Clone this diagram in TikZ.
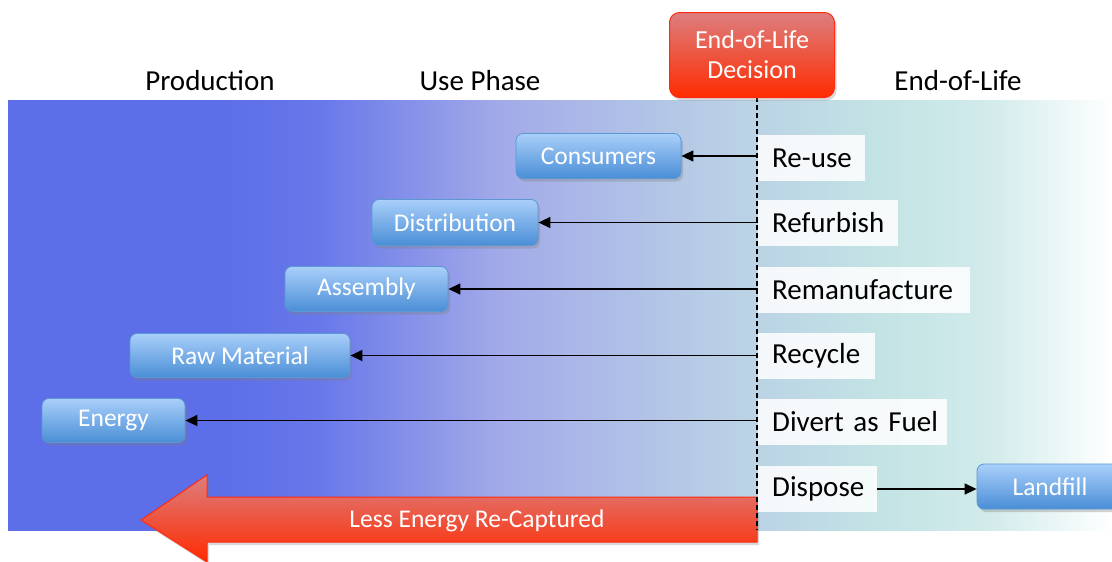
\documentclass[tikz,border=0pt]{standalone}
\usepackage{fontspec}
\setmainfont{Carlito}
\usetikzlibrary{shadows,arrows.meta}
\definecolor{bgA}{HTML}{5C6EE8}
\definecolor{bgB}{HTML}{6878EA}
\definecolor{bgC}{HTML}{A2AAE8}
\definecolor{bgD}{HTML}{B7CCE6}
\definecolor{bgE}{HTML}{C3E3E4}
\definecolor{bgF}{HTML}{D2EBEB}
\definecolor{boxTop}{HTML}{A9CFFA}
\definecolor{boxBot}{HTML}{4A8ED6}
\definecolor{boxLine}{HTML}{5A98D2}
\definecolor{redTop}{HTML}{DC7F7F}
\definecolor{redBot}{HTML}{FF2A00}
\definecolor{redLine}{HTML}{FF2A10}
\tikzset{
  bluebox/.style={draw=boxLine, line width=0.8pt, rounded corners=7pt,
    top color=boxTop, bottom color=boxBot, text=white,
    font=\fontsize{25.5}{28}\selectfont, inner sep=0pt,
    drop shadow={shadow xshift=2pt, shadow yshift=-3pt, opacity=0.35}},
  lbl/.style={fill=white, fill opacity=0.85, text opacity=1, anchor=west,
    font=\fontsize{29}{32}\selectfont, inner xsep=14pt, inner ysep=0pt,
    minimum height=46pt, align=left, text width=#1},
  head/.style={font=\fontsize{29}{32}\selectfont},
  arr/.style={-{Triangle[length=12pt,width=11pt]}, line width=1.4pt, black}
}
\begin{document}
\begin{tikzpicture}[x=1pt,y=-1pt]
\useasboundingbox (0,0) rectangle (1112,562);
% background gradient
\shade[left color=bgA, right color=bgA] (8,100) rectangle (220,530);
\shade[left color=bgA, right color=bgB] (219,100) rectangle (320,530);
\shade[left color=bgB, right color=bgC] (319,100) rectangle (500,530);
\shade[left color=bgC, right color=bgD] (499,100) rectangle (700,530);
\shade[left color=bgD, right color=bgE] (699,100) rectangle (880,530);
\shade[left color=bgE, right color=bgF] (879,100) rectangle (990,530);
\shade[left color=bgF, right color=white] (989,100) rectangle (1112,530);
% headers
\node[head] (prod) at (210,81) {Production};
\node[head] (use) at (480,81) {Use Phase};
\node[head] (eol) at (958,81) {End-of-Life};
% big red arrow
\path[draw=redLine, line width=1pt, top color=redTop, bottom color=redBot,
  drop shadow={shadow xshift=2pt, shadow yshift=-3pt, opacity=0.3}]
  (757,497) -- (207,497) -- (207,475) -- (141,520) -- (207,562) -- (207,542) -- (757,542) -- cycle;
\node[text=white, font=\fontsize{25.5}{28}\selectfont] (less) at (477,521) {Less Energy Re-Captured};
% dashed line
\coordinate (dtop) at (757,97);
\coordinate (dbot) at (757,530);
\draw[line width=1.1pt, dash pattern=on 5pt off 3pt] (dtop) -- (dbot);
% decision box
\node[draw=redLine, line width=1pt, rounded corners=10pt, top color=redTop, bottom color=redBot,
  text=white, font=\fontsize{26}{30}\selectfont, align=center,
  minimum width=165pt, minimum height=85pt,
  drop shadow={shadow xshift=2pt, shadow yshift=-3pt, opacity=0.3}]
  (dec) at (752,55) {End-of-Life\\Decision};
% labels
\node[lbl=79pt] (reuse) at (758,158) {\mbox{Re-use}};
\node[lbl=112pt] (refurb) at (758,223) {\mbox{Refurbish}};
\node[lbl=184pt] (reman) at (758,290) {\mbox{Remanufacture}};
\node[lbl=89pt] (recyc) at (758,356) {\mbox{Recycle}};
\node[lbl=161pt] (divert) at (758,422) {\mbox{Divert as Fuel}};
\node[lbl=91pt] (dispose) at (758,489) {\mbox{Dispose}};
% blue boxes
\node[bluebox, minimum width=165pt, minimum height=45pt] (cons) at (598.5,156) {Consumers};
\node[bluebox, minimum width=166pt, minimum height=46pt] (dist) at (455,222.5) {Distribution};
\node[bluebox, minimum width=163pt, minimum height=45pt] (asm) at (366.5,289) {Assembly};
\node[bluebox, minimum width=220pt, minimum height=44pt] (raw) at (240,355.5) {Raw Material};
\node[bluebox, minimum width=143pt, minimum height=44pt] (energy) at (113.5,420.5) {Energy};
\node[bluebox, minimum width=146pt, minimum height=45pt] (land) at (1050,486.5) {Landfill};
% arrows
\draw[arr] (reuse.west |- cons.east) -- (cons.east);
\draw[arr] (refurb.west |- dist.east) -- (dist.east);
\draw[arr] (reman.west |- asm.east) -- (asm.east);
\draw[arr] (recyc.west |- raw.east) -- (raw.east);
\draw[arr] (divert.west |- energy.east) -- (energy.east);
\draw[arr] (dispose.east) -- (dispose.east -| land.west);
\end{tikzpicture}
\end{document}
